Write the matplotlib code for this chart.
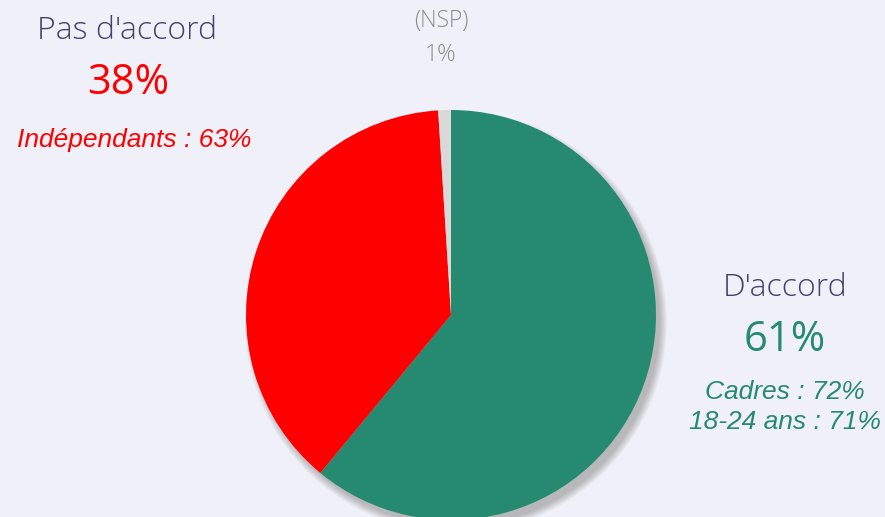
import matplotlib
matplotlib.use('Agg')
import matplotlib.pyplot as plt
from matplotlib.patches import Circle

# Données
labels = ["D'accord", "Pas d'accord", "(NSP)"]
values = [61, 38, 1]
colors = ['#268A70', '#FF0000', '#D9D9D9']
details_accord = ["Cadres : 72%", "18-24 ans : 71%"]
details_pas = ["Indépendants : 63%"]

W, H = 885, 517
fig = plt.figure(figsize=(W / 100, H / 100), dpi=100)
fig.patch.set_facecolor('#F0F0F8')
ax = fig.add_axes([0, 0, 1, 1])

cx, cy, r = 451, H - 315, 205

# Ombre floue, décalée vers le bas à droite
for i in range(10):
    ax.add_patch(Circle((cx + 5, cy - 7), r + 6 - i * 0.8, color='#505050',
                        alpha=0.04, lw=0, zorder=1))

ax.pie(values, colors=colors, startangle=90, counterclock=False,
       center=(cx, cy), radius=r, frame=True,
       wedgeprops=dict(linewidth=0, zorder=2))
ax.set_xlim(0, W)
ax.set_ylim(0, H)
ax.set_aspect('equal')
ax.axis('off')

title_font = ['Open Sans', 'DejaVu Sans']
it_font = ['Liberation Sans', 'DejaVu Sans']
dark = '#45406E'

# Pas d'accord
ax.text(127, H - 31, labels[1], ha='center', va='center', fontsize=23,
        color=dark, family=title_font, fontweight='light')
ax.text(128, H - 83, f"{values[1]}%", ha='center', va='center', fontsize=30,
        color='#FF0000', family=title_font)
ax.text(134, H - 140, details_pas[0], ha='center', va='center', fontsize=19,
        color='#FF0000', family=it_font, style='italic')

# NSP
ax.text(441, H - 21, labels[2], ha='center', va='center', fontsize=16.5,
        color='#8C8C8C', family=title_font, fontweight='light')
ax.text(441, H - 55, f"{values[2]}%", ha='center', va='center', fontsize=16.5,
        color='#8C8C8C', family=title_font, fontweight='light')

# D'accord
ax.text(785, H - 288, labels[0], ha='center', va='center', fontsize=23,
        color=dark, family=title_font, fontweight='light')
ax.text(785, H - 340, f"{values[0]}%", ha='center', va='center', fontsize=30,
        color='#268A70', family=title_font)
ax.text(785, H - 392, details_accord[0], ha='center', va='center', fontsize=19,
        color='#268A70', family=it_font, style='italic')
ax.text(785, H - 422, details_accord[1], ha='center', va='center', fontsize=19,
        color='#268A70', family=it_font, style='italic')

plt.savefig('out.png', dpi=100, facecolor=fig.get_facecolor())
plt.close()
